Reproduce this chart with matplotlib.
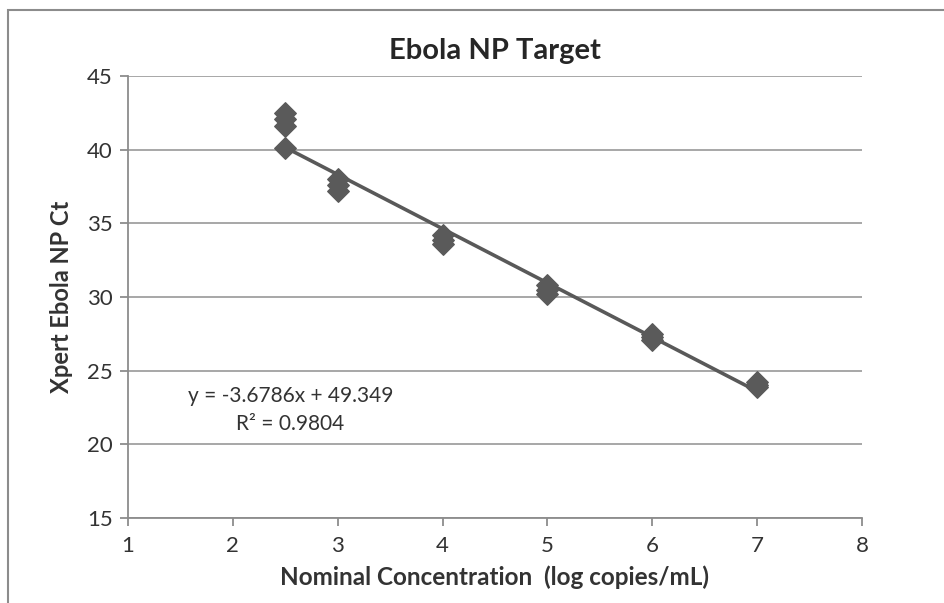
import numpy as np
import matplotlib
matplotlib.use("Agg")
import matplotlib.pyplot as plt
from matplotlib.patches import Rectangle

plt.rcParams['font.family'] = ['Lato', 'DejaVu Sans']

# data
conc = [2.5, 2.5, 2.5, 2.5, 3, 3, 3, 4, 4, 4, 5, 5, 5, 6, 6, 6, 7, 7, 7]
ct = [42.5, 42.1, 41.6, 40.1, 38.0, 37.6, 37.2, 34.2, 33.9, 33.6,
      30.8, 30.5, 30.2, 27.5, 27.3, 27.1, 24.2, 24.0, 23.9]
slope = -3.6786
intercept = 49.349
r2 = 0.9804
xticks = [1, 2, 3, 4, 5, 6, 7, 8]
yticks = [15, 20, 25, 30, 35, 40, 45]

fig = plt.figure(figsize=(9.44, 6.03), dpi=100)
fig.patches.append(Rectangle((8 / 944, -0.1), 1.2, 1 - 10 / 603 + 0.1,
                             transform=fig.transFigure, fill=False,
                             edgecolor='#8c8c8c', linewidth=1.5))
ax = fig.add_axes([128 / 944, 1 - 518 / 603, 734 / 944, 442 / 603])

ax.scatter(conc, ct, marker='D', s=120, color='#5a5a5a', zorder=3)
xl = np.array([2.5, 7.0])
ax.plot(xl, slope * xl + intercept, color='#595959', linewidth=2.6, zorder=2)

ax.set_xlim(1, 8)
ax.set_ylim(15, 45)
ax.set_xticks(xticks)
ax.set_yticks(yticks)
ax.yaxis.grid(True, color='#a0a0a0', linewidth=1.3)
ax.set_axisbelow(True)
for s in ['top', 'right']:
    ax.spines[s].set_visible(False)
for s in ['left', 'bottom']:
    ax.spines[s].set_color('#8c8c8c')
    ax.spines[s].set_linewidth(1.3)
ax.tick_params(direction='out', length=6, width=1.3, color='#8c8c8c',
               labelsize=16, labelcolor='#333333')
ax.tick_params(axis='x', pad=7)
ax.tick_params(axis='y', pad=5)

ax.set_title('Ebola NP Target', fontsize=21, fontweight='bold', color='#262626', pad=12)
ax.set_xlabel('Nominal Concentration  (log copies/mL)', fontsize=17.5,
              fontweight='bold', color='#333333', labelpad=7)
ax.set_ylabel('Xpert Ebola NP Ct', fontsize=17, fontweight='bold',
              color='#333333', labelpad=10)

ax.text(2.55, 23.3, 'y = %.4fx + %.3f' % (slope, intercept), ha='center',
        va='center', fontsize=15, color='#333333')
ax.text(2.55, 21.4, 'R² = %.4f' % r2, ha='center', va='center',
        fontsize=15, color='#333333')

fig.savefig('out.png', dpi=100)
